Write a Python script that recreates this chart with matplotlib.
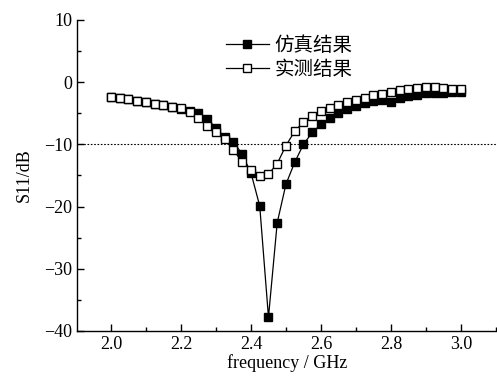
import matplotlib
matplotlib.use("Agg")
import matplotlib.pyplot as plt
from matplotlib.ticker import MultipleLocator

freq = [2.0 + 0.025 * i for i in range(41)]

sim = [
    -2.4, -2.5, -2.7, -3.0, -3.2, -3.5, -3.7, -4.0, -4.3, -4.7,
    -5.0, -5.9, -7.4, -8.8, -9.6, -11.6, -14.6, -19.9, -37.8, -22.6,
    -16.4, -12.9, -10.0, -8.1, -6.8, -5.8, -5.0, -4.3, -3.9, -3.4,
    -3.1, -2.9, -3.2, -2.6, -2.25, -2.0, -1.8, -1.75, -1.7, -1.6,
    -1.55,
]

meas = [
    -2.35, -2.5, -2.7, -3.0, -3.2, -3.5, -3.7, -4.0, -4.2, -4.8,
    -5.8, -7.0, -8.1, -9.2, -10.9, -12.9, -14.1, -15.1, -14.8, -13.1,
    -10.2, -7.9, -6.4, -5.5, -4.7, -4.1, -3.65, -3.2, -2.85, -2.5,
    -2.1, -1.85, -1.6, -1.3, -1.1, -0.95, -0.85, -0.8, -0.95, -1.1,
    -1.15,
]

labels = ["仿真结果", "实测结果"]

plt.rcParams['font.family'] = ['Liberation Serif', 'Noto Sans CJK SC']

fig = plt.figure(figsize=(4.97, 3.83), dpi=100)
ax = fig.add_axes([0.155, 0.136, 0.845, 0.812])

# -10 dB reference
ax.axhline(-10, color='black', linestyle=(0, (1.5, 1.5)), linewidth=0.8, zorder=1)

ax.plot(freq, sim, color='black', linewidth=0.9, marker='s', markersize=5.2,
        markerfacecolor='black', markeredgecolor='black', label=labels[0], zorder=2)
ax.plot(freq, meas, color='black', linewidth=0.9, marker='s', markersize=5.2,
        markerfacecolor='white', markeredgecolor='black', markeredgewidth=1.0,
        label=labels[1], zorder=3)

ax.set_xlim(1.903, 3.103)
ax.set_ylim(-40, 10)
ax.xaxis.set_major_locator(MultipleLocator(0.2))
ax.xaxis.set_minor_locator(MultipleLocator(0.1))
ax.yaxis.set_major_locator(MultipleLocator(10))
ax.yaxis.set_minor_locator(MultipleLocator(5))
ax.tick_params(which='both', direction='in', labelsize=13, width=1.0)
ax.tick_params(which='major', length=5)
ax.tick_params(which='minor', length=3)

for side in ('top', 'right'):
    ax.spines[side].set_visible(False)
for side in ('left', 'bottom'):
    ax.spines[side].set_linewidth(1.0)

ax.set_xlabel('frequency / GHz', fontsize=13, labelpad=1)
ax.set_ylabel('S11/dB', fontsize=13, labelpad=8)

ax.legend(loc='upper left', bbox_to_anchor=(226 / 497, 1 - 35 / 383),
          bbox_transform=fig.transFigure, frameon=False,
          prop={'family': ['Noto Sans CJK SC'], 'size': 14},
          handlelength=2.2, handletextpad=0.3, labelspacing=0.15,
          borderpad=0, borderaxespad=0)

fig.savefig('out.png', dpi=100)
